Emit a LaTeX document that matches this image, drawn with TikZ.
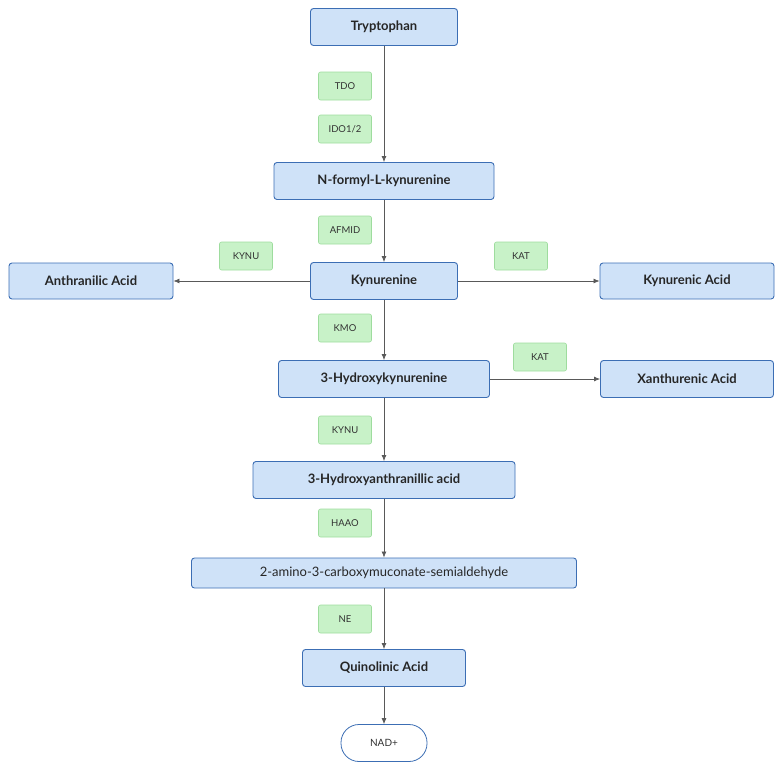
\documentclass[tikz,border=0pt]{standalone}
\usepackage{fontspec}
\setmainfont{Lato}
\usetikzlibrary{arrows.meta}
\definecolor{bfill}{HTML}{CFE2F8}
\definecolor{bline}{HTML}{3C6EB4}
\definecolor{gfill}{HTML}{C8F2C8}
\definecolor{gline}{HTML}{9EDC9E}
\begin{document}
\begin{tikzpicture}[x=1pt,y=-1pt,
 met/.style={draw=bline,fill=bfill,rounded corners=3pt,line width=0.9pt,font=\bfseries\fontsize{13}{15}\selectfont,text=black!85,minimum height=37pt,inner sep=0pt},
 enz/.style={draw=gline,fill=gfill,rounded corners=2pt,line width=0.6pt,font=\fontsize{9.5}{11}\selectfont,text=black!80,minimum width=53pt,minimum height=28pt,inner sep=0pt},
 arr/.style={-{Latex[length=6pt,width=5pt]},draw=black!65,line width=0.7pt}]
\useasboundingbox (0,0) rectangle (784,768);
\node[met,minimum width=147pt] (trp) at (384,27) {Tryptophan};
\node[enz] (tdo) at (345,86) {TDO};
\node[enz] (ido) at (345,129) {IDO1/2};
\node[met,minimum width=220pt] (nfk) at (384,181) {N-formyl-L-kynurenine};
\node[enz] (afmid) at (345,230) {AFMID};
\node[met,minimum width=147pt] (kyn) at (384,281) {Kynurenine};
\node[enz] (kynu1) at (246,256) {KYNU};
\node[enz] (kat1) at (521,256) {KAT};
\node[met,minimum width=164pt,minimum height=36pt] (ant) at (91,281) {Anthranilic Acid};
\node[met,minimum width=174pt,minimum height=36pt] (kya) at (687,281) {Kynurenic Acid};
\node[enz] (kmo) at (345,328) {KMO};
\node[met,minimum width=211pt] (hk) at (384,379) {3-Hydroxykynurenine};
\node[enz] (kat2) at (540,357) {KAT};
\node[met,minimum width=173pt] (xa) at (687,379) {Xanthurenic Acid};
\node[enz] (kynu2) at (345,430) {KYNU};
\node[met,minimum width=262pt] (haa) at (384,480) {3-Hydroxyanthranillic acid};
\node[enz] (haao) at (345,523) {HAAO};
\node[met,minimum width=385pt,minimum height=30pt,font=\fontsize{13}{15}\selectfont] (acms) at (384,573) {2-amino-3-carboxymuconate-semialdehyde};
\node[enz] (ne) at (345,619) {NE};
\node[met,minimum width=163pt] (qa) at (384,668) {Quinolinic Acid};
\node[draw=bline,fill=white,rounded corners=18pt,line width=0.8pt,minimum width=86pt,minimum height=37pt,font=\fontsize{10}{12}\selectfont,text=black!80] (nad) at (384,743) {NAD+};
\draw[arr] (trp) -- (nfk);
\draw[arr] (nfk) -- (kyn);
\draw[arr] (kyn) -- (ant);
\draw[arr] (kyn) -- (kya);
\draw[arr] (kyn) -- (hk);
\draw[arr] (hk) -- (xa);
\draw[arr] (hk) -- (haa);
\draw[arr] (haa) -- (acms);
\draw[arr] (acms) -- (qa);
\draw[arr] (qa) -- (nad);
\end{tikzpicture}
\end{document}
